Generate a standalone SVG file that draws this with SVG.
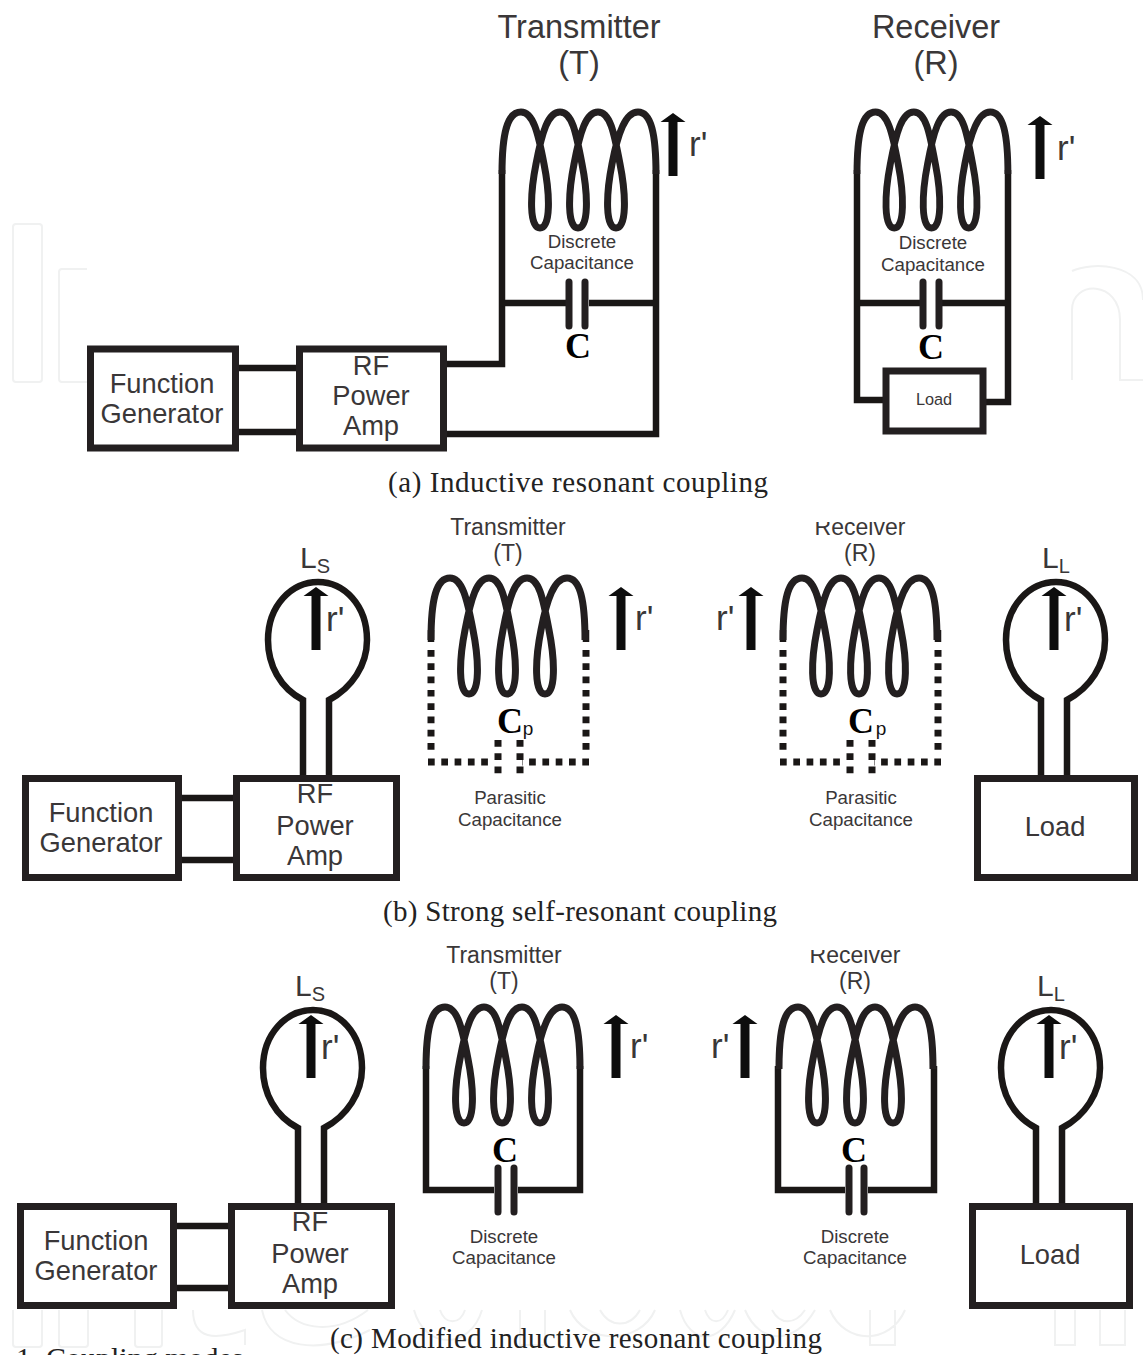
<svg xmlns="http://www.w3.org/2000/svg" xmlns:xlink="http://www.w3.org/1999/xlink" width="1143" height="1355" viewBox="0 0 1143 1355">
<style>
.w{fill:none;stroke:#1a1716;stroke-width:6.500;stroke-linejoin:miter}
.box{fill:#fff;stroke:#231f20;stroke-width:7}
.coil{fill:none;stroke:#231f20;stroke-width:7}
.plate{fill:none;stroke:#231f20;stroke-width:7;stroke-linecap:round}
.dot{fill:none;stroke:#1a1716;stroke-width:7;stroke-dasharray:6.700 6.600}
.wm{fill:none;stroke:#f0f1f1;stroke-width:2}
text{font-family:"Liberation Sans",Arial,sans-serif;fill:#3a3738;text-anchor:middle}
.h1{font-size:32.500px}.h2{font-size:23px}.h3{font-size:18.700px}.lb{font-size:27.300px}.sm{font-size:16.300px}
.r{font-size:35px;text-anchor:start}
.c{font-family:"Liberation Serif","Times New Roman",serif;font-weight:bold;font-size:36px;fill:#000}
.p{font-size:19px;fill:#111}
.cap{font-family:"Liberation Serif","Times New Roman",serif;font-size:29px;fill:#222}
</style>
<defs>
<path id="coil" class="coil" d="M0,62C0,22 5,0 19,0C31,0 36,20 42,52C48,82 49,116 38,116C27,116 28,82 34,52C40,20 46,0 58,0C70,0 74,20 80,52C86,82 87,116 76,116C65,116 66,82 72,52C78,20 84,0 96,0C108,0 112,20 118,52C124,82 125,116 114,116C103,116 104,82 110,52C116,20 124,0 136,0C149,0 154,22 154,62"/>
<path id="arrow" fill="#0d0d0d" d="M-4.500,63V9H-12.500L0,0L12.500,9H4.500V63Z"/>
<path id="bulb" class="w" d="M0,75V0C-23,-12 -35,-35 -35,-60C-35,-95 -11,-118 15,-118C41,-118 64,-95 64,-60C64,-35 49,-12 26,0V75"/>
</defs>

<g id="watermark">
<rect class="wm" x="13" y="224" width="29" height="158" rx="3"/>
<path class="wm" d="M87,269H62a3,3 0 0 0 -3,3V379a3,3 0 0 0 3,3H87"/>
<path class="wm" d="M1072,271C1090,262 1143,262 1143,300M1072,380V310C1072,280 1120,280 1120,320V380H1143"/>
<path class="wm" d="M13,1310V1344a3,3 0 0 0 3,3H39a3,3 0 0 0 3,-3V1310M59,1310V1344a3,3 0 0 0 3,3H85a3,3 0 0 0 3,-3V1310M135,1310V1344a3,3 0 0 0 3,3H159a3,3 0 0 0 3,-3V1310"/>
<path class="wm" d="M193,1310C193,1340 215,1340 245,1330V1345M262,1310C270,1350 320,1355 370,1330M285,1310C300,1330 335,1335 368,1310M414,1310C425,1350 470,1350 482,1310M440,1310C445,1325 460,1325 465,1310M520,1310V1345H545V1310M570,1310C585,1345 640,1345 655,1310M600,1310C610,1328 630,1328 640,1310M680,1310C690,1345 720,1345 735,1310M705,1310C710,1325 722,1325 728,1310M745,1310C760,1345 795,1345 815,1310M772,1310C780,1325 795,1325 805,1310M830,1310C845,1345 890,1345 905,1310M870,1310V1345H895V1310M1055,1310V1345H1075V1310M1100,1310V1345H1125V1310"/>
</g>

<g id="connectors">
<!-- a -->
<path class="w" d="M238,368H296M238,432H296"/>
<path class="w" d="M447,364H502V170"/>
<path class="w" d="M447,434H656V170"/>
<path class="w" d="M502,303H566M589,303H656"/>
<path class="w" d="M857,170V400H884M1008,170V402H986"/>
<path class="w" d="M857,303H920M941,303H1008"/>
<!-- b -->
<path class="w" d="M182,798H233M182,860H233"/>
<path class="w" d="M431,630V642M586,630V642M783,630V642M938,630V642"/>
<path class="dot" d="M431,650V755M586,650V755M428,762H492M589,762H522"/>
<path class="dot" d="M498,740V779M520,740V779"/>
<path class="dot" d="M783,650V755M938,650V755M780,762H844M941,762H874"/>
<path class="dot" d="M850,740V779M872,740V779"/>
<!-- c -->
<path class="w" d="M177,1226H228M177,1288H228"/>
<path class="w" d="M426,1066V1190H494M580,1066V1190H518"/>
<path class="w" d="M778,1066V1190H845M934,1066V1190H868"/>
</g>

<g id="a-function-generator"><rect class="box" x="90.500" y="349" width="145" height="99"/><text class="lb" x="162" y="393">Function</text><text class="lb" x="162" y="423">Generator</text></g>
<g id="a-rf-amp"><rect class="box" x="299.500" y="349" width="144" height="99"/><text class="lb" x="371" y="375">RF</text><text class="lb" x="371" y="405">Power</text><text class="lb" x="371" y="435">Amp</text></g>
<g id="a-transmitter">
<text class="h1" x="579" y="38">Transmitter</text><text class="h1" x="579" y="74">(T)</text>
<use xlink:href="#coil" href="#coil" x="502" y="112"/>
<use href="#arrow" xlink:href="#arrow" x="673" y="113"/><text class="r" x="689" y="156">r'</text>
<text class="h3" x="582" y="248">Discrete</text><text class="h3" x="582" y="269">Capacitance</text>
<path class="plate" d="M569,282V326M585,282V326"/>
<text class="c" x="578" y="358">C</text>
</g>
<g id="a-receiver">
<text class="h1" x="936" y="38">Receiver</text><text class="h1" x="936" y="74">(R)</text>
<use href="#coil" xlink:href="#coil" transform="translate(857,112) scale(.98,1)"/>
<use href="#arrow" xlink:href="#arrow" x="1040" y="116"/><text class="r" x="1057" y="160">r'</text>
<text class="h3" x="933" y="249">Discrete</text><text class="h3" x="933" y="271">Capacitance</text>
<path class="plate" d="M923,282V326M939,282V326"/>
<text class="c" x="931" y="359">C</text>
</g>
<g id="a-load"><rect class="box" x="886" y="371" width="97" height="60"/><text class="sm" x="934" y="405">Load</text></g>
<text class="cap" x="578" y="492" textLength="380">(a)  Inductive resonant coupling</text>

<g id="b-function-generator"><rect class="box" x="25.500" y="778.500" width="153" height="99"/><text class="lb" x="101" y="822">Function</text><text class="lb" x="101" y="852">Generator</text></g>
<g id="b-rf-amp"><rect class="box" x="236.500" y="778.500" width="160" height="99"/></g>
<g id="b-ls">
<use href="#bulb" xlink:href="#bulb" x="303" y="700"/>
<use href="#arrow" xlink:href="#arrow" x="316" y="587"/>
<text class="r" x="326" y="631">r'</text>
<text x="315" y="568" font-size="30">L<tspan font-size="20" dy="5">S</tspan></text>
<text class="lb" x="315" y="803">RF</text><text class="lb" x="315" y="835">Power</text><text class="lb" x="315" y="865">Amp</text>
</g>
<g id="b-transmitter">
<text class="h2" x="508" y="535">Transmitter</text><text class="h2" x="508" y="561">(T)</text>
<use href="#coil" xlink:href="#coil" x="431" y="578"/>
<use href="#arrow" xlink:href="#arrow" x="621" y="587"/><text class="r" x="635" y="630">r'</text>
<text class="c" x="510" y="733">C</text><text class="p" x="528" y="735">p</text>
<text class="h3" x="510" y="804">Parasitic</text><text class="h3" x="510" y="826">Capacitance</text>
</g>
<g id="b-receiver">
<text class="h2" x="860" y="535">Receiver</text><rect x="800" y="510" width="120" height="12" fill="#fff"/><text class="h2" x="860" y="561">(R)</text>
<use href="#coil" xlink:href="#coil" x="783" y="578"/>
<use href="#arrow" xlink:href="#arrow" x="751" y="587"/><text class="r" x="716" y="630">r'</text>
<text class="c" x="861" y="733">C</text><text class="p" x="881" y="735">p</text>
<text class="h3" x="861" y="804">Parasitic</text><text class="h3" x="861" y="826">Capacitance</text>
</g>
<g id="b-ll">
<use href="#bulb" xlink:href="#bulb" x="1041" y="700"/>
<use href="#arrow" xlink:href="#arrow" x="1054" y="587"/>
<text class="r" x="1064" y="631">r'</text>
<text x="1056" y="568" font-size="30">L<tspan font-size="20" dy="5">L</tspan></text>
</g>
<g id="b-load"><rect class="box" x="977.500" y="778.500" width="157" height="99"/><text class="lb" x="1055" y="836">Load</text></g>
<text class="cap" x="580" y="921" textLength="394">(b)  Strong self-resonant coupling</text>

<g id="c-function-generator"><rect class="box" x="20.500" y="1206.500" width="153" height="99"/><text class="lb" x="96" y="1250">Function</text><text class="lb" x="96" y="1280">Generator</text></g>
<g id="c-rf-amp"><rect class="box" x="231.500" y="1206.500" width="160" height="99"/></g>
<g id="c-ls">
<use href="#bulb" xlink:href="#bulb" x="298" y="1128"/>
<use href="#arrow" xlink:href="#arrow" x="311" y="1015"/>
<text class="r" x="321" y="1059">r'</text>
<text x="310" y="996" font-size="30">L<tspan font-size="20" dy="5">S</tspan></text>
<text class="lb" x="310" y="1231">RF</text><text class="lb" x="310" y="1263">Power</text><text class="lb" x="310" y="1293">Amp</text>
</g>
<g id="c-transmitter">
<text class="h2" x="504" y="963">Transmitter</text><text class="h2" x="504" y="989">(T)</text>
<use href="#coil" xlink:href="#coil" x="426" y="1007"/>
<use href="#arrow" xlink:href="#arrow" x="616" y="1015"/><text class="r" x="630" y="1058">r'</text>
<text class="c" x="505" y="1162">C</text>
<path class="plate" d="M498,1168V1212M514,1168V1212"/>
<text class="h3" x="504" y="1243">Discrete</text><text class="h3" x="504" y="1264">Capacitance</text>
</g>
<g id="c-receiver">
<text class="h2" x="855" y="963">Receiver</text><rect x="795" y="938" width="120" height="12" fill="#fff"/><text class="h2" x="855" y="989">(R)</text>
<use href="#coil" xlink:href="#coil" x="779" y="1007"/>
<use href="#arrow" xlink:href="#arrow" x="745" y="1015"/><text class="r" x="711" y="1058">r'</text>
<text class="c" x="854" y="1162">C</text>
<path class="plate" d="M849,1168V1212M864,1168V1212"/>
<text class="h3" x="855" y="1243">Discrete</text><text class="h3" x="855" y="1264">Capacitance</text>
</g>
<g id="c-ll">
<use href="#bulb" xlink:href="#bulb" x="1036" y="1128"/>
<use href="#arrow" xlink:href="#arrow" x="1049" y="1015"/>
<text class="r" x="1059" y="1059">r'</text>
<text x="1051" y="996" font-size="30">L<tspan font-size="20" dy="5">L</tspan></text>
</g>
<g id="c-load"><rect class="box" x="972.500" y="1206.500" width="157" height="99"/><text class="lb" x="1050" y="1264">Load</text></g>
<text class="cap" x="576" y="1348" textLength="492">(c)  Modified inductive resonant coupling</text>
<text class="cap" x="16" y="1368" style="text-anchor:start;font-size:30px">1. Coupling modes</text>
</svg>
